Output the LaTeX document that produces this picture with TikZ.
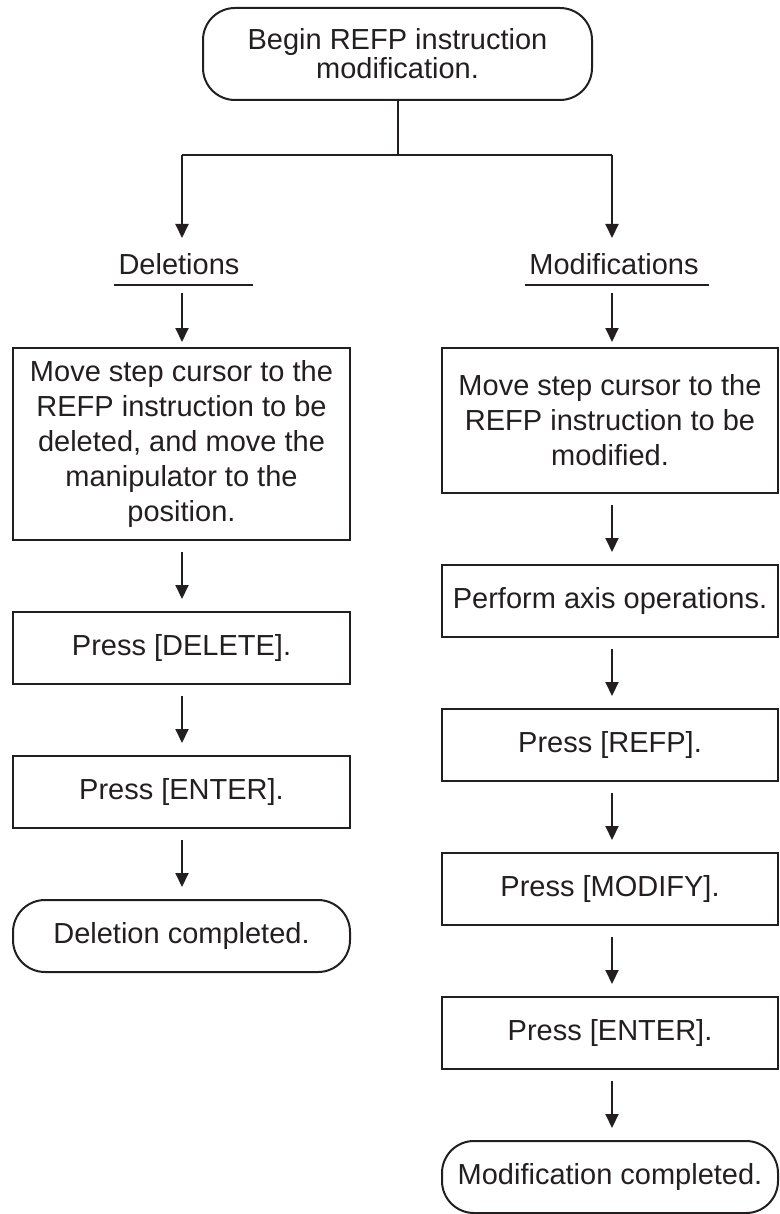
\documentclass[tikz,border=0pt]{standalone}
\usepackage{fontspec}
\setmainfont{Liberation Sans}
\usetikzlibrary{arrows.meta}
\definecolor{ink}{HTML}{231F20}
\begin{document}
\begin{tikzpicture}[x=1pt,y=-1pt,
  every path/.style={line width=2pt, color=ink},
  base/.style={draw, line width=2pt, align=center, inner sep=0pt, text=ink,
    font=\fontsize{29}{35}\selectfont},
  stepbox/.style={base, minimum width=337pt},
  rbox/.style={base, minimum width=336pt, minimum height=72pt},
  term/.style={base, rounded corners=32pt},
  lbl/.style={inner sep=0pt, text=ink, font=\fontsize{29}{35}\selectfont, anchor=base},
  tip/.style={-{Triangle[width=13pt,length=14pt]}},
  arr/.style={tip, shorten <=11pt, shorten >=12pt}]
\useasboundingbox (0,0) rectangle (779,1214);

% top
\node[term, minimum width=389pt, minimum height=92pt,
  font=\fontsize{29}{29}\selectfont] (start) at (397.5,54)
  {Begin REFP instruction\\modification.};
\coordinate (bus) at (397.5,155);
\coordinate (busL) at (182,155);
\coordinate (busR) at (612,155);
\coordinate (tipL) at (182,238);
\coordinate (tipR) at (612,238);
\draw (start.south) -- (bus);
\draw (busL) -- (busR);
\draw[tip] (busL) -- (tipL);
\draw[tip] (busR) -- (tipR);

% labels
\node[lbl] (del) at (179,275) {Deletions};
\node[lbl] (mod) at (614,275) {Modifications};
\coordinate (delu) at (182,285);
\coordinate (modu) at (612,285);
\draw (114,285) -- (253,285);
\draw (525,285) -- (709,285);

% left column
\node[stepbox, minimum height=192pt] (a1) at (181.5,444)
  {Move step cursor to the\\REFP instruction to be\\deleted, and move the\\manipulator to the\\position.};
\node[stepbox, minimum height=72pt] (a2) at (181.5,648) {Press [DELETE].};
\node[stepbox, minimum height=72pt] (a3) at (181.5,792) {Press [ENTER].};
\node[term, minimum width=337pt, minimum height=72pt] (a4) at (181.5,936) {Deletion completed.};

% right column
\node[rbox, minimum height=145pt] (b1) at (610,420.5)
  {Move step cursor to the\\REFP instruction to be\\modified.};
\node[rbox] (b2) at (610,601) {Perform axis operations.};
\node[rbox] (b3) at (610,745) {Press [REFP].};
\node[rbox] (b4) at (610,889) {Press [MODIFY].};
\node[rbox] (b5) at (610,1033) {Press [ENTER].};
\node[term, minimum width=336pt, minimum height=72pt] (b6) at (610,1177) {Modification completed.};

% arrows
\draw[tip, shorten <=8pt, shorten >=5pt] (delu) -- (a1.north -| delu);
\draw[arr] (a1.south -| delu) -- (a2.north -| delu);
\draw[arr] (a2.south -| delu) -- (a3.north -| delu);
\draw[arr] (a3.south -| delu) -- (a4.north -| delu);
\draw[tip, shorten <=8pt, shorten >=5pt] (modu) -- (b1.north -| modu);
\draw[arr] (b1.south -| modu) -- (b2.north -| modu);
\draw[arr] (b2.south -| modu) -- (b3.north -| modu);
\draw[arr] (b3.south -| modu) -- (b4.north -| modu);
\draw[arr] (b4.south -| modu) -- (b5.north -| modu);
\draw[arr] (b5.south -| modu) -- (b6.north -| modu);
\end{tikzpicture}
\end{document}
